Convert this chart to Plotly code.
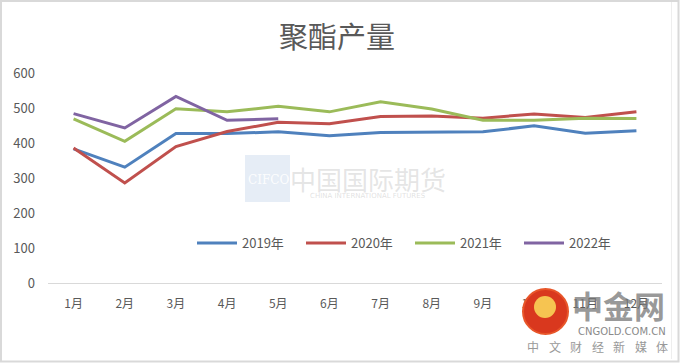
import plotly.graph_objects as go

months = ["1月", "2月", "3月", "4月", "5月", "6月", "7月", "8月", "9月", "10月", "11月", "12月"]
y2019 = [383, 331, 427, 427, 432, 421, 430, 430, 432, 449, 428, 435]
y2020 = [386, 286, 390, 433, 459, 455, 476, 477, 471, 483, 473, 489]
y2021 = [469, 405, 498, 489, 505, 489, 518, 497, 465, 465, 471, 470]
y2022 = [484, 443, 533, 465, 469]
series_names = ["2019年", "2020年", "2021年", "2022年"]
colors = ["#4F81BD", "#C0504D", "#9BBB59", "#8064A2"]

W, H = 680, 363
# desired screen positions of plot area
SL, SR, ST, SB = 48, 662, 73, 283
L = SL
T = ST
R = W - SR
B = H - SB
PW = W - L - R
PH = H - T - B

def px(x):
    return (x - L) / PW

def py(y):
    return (H - B - y) / PH

fig = go.Figure()
for name, vals, c in zip(series_names, [y2019, y2020, y2021, y2022], colors):
    fig.add_trace(go.Scatter(
        x=months[:len(vals)], y=vals, name=name, mode="lines",
        line=dict(color=c, width=3),
    ))

font_cjk = "Noto Sans CJK SC, Microsoft YaHei, sans-serif"

fig.update_layout(
    width=W, height=H,
    margin=dict(l=L, r=R, t=T, b=B, autoexpand=False),
    paper_bgcolor="white", plot_bgcolor="white",
    font=dict(family=font_cjk, size=12, color="#595959"),
    title=dict(text="聚酯产量", x=px(337), xref="paper", xanchor="center",
               y=1 - 38 / H, yanchor="middle",
               font=dict(size=29, color="#595959", family=font_cjk)),
    legend=dict(orientation="h", x=px(192), y=py(243), xanchor="left", yanchor="middle",
                font=dict(size=13, color="#595959"), bgcolor="rgba(0,0,0,0)",
                entrywidth=54, entrywidthmode="pixels", itemwidth=40, tracegroupgap=0),
    showlegend=True,
)
fig.update_xaxes(
    type="category", categoryorder="array", categoryarray=months,
    range=[-0.5, 11.5], showgrid=False, showline=True, linecolor="#D9D9D9",
    linewidth=1, ticks="", ticklabelstandoff=10, zeroline=False,
    tickfont=dict(size=12, color="#595959"),
)
fig.update_yaxes(
    range=[0, 600], dtick=100, showgrid=False, zeroline=False, showline=False,
    ticks="", ticklabelstandoff=12, tickfont=dict(size=13, color="#595959"),
)

def note(text, x, y, size, color, family=font_cjk):
    fig.add_annotation(text=text, xref="paper", yref="paper", x=px(x), y=py(y),
                       xanchor="center", yanchor="middle", showarrow=False,
                       font=dict(size=size, color=color, family=family))

# watermark: CIFCO
fig.add_shape(type="rect", xref="paper", yref="paper",
              x0=px(245), x1=px(290), y0=py(202), y1=py(155),
              fillcolor="rgba(200,215,235,0.45)", line=dict(width=0), layer="below")
note("CIFCO", 268, 180, 12, "rgba(255,255,255,0.9)", "DejaVu Serif")
note("中国国际期货", 368, 178, 26, "rgba(180,180,180,0.35)")
note("CHINA INTERNATIONAL FUTURES", 368, 196, 7, "rgba(180,180,180,0.4)", "DejaVu Sans")

# watermark: 中金网
fig.add_shape(type="circle", xref="paper", yref="paper",
              x0=px(523), x1=px(568), y0=py(334), y1=py(289),
              fillcolor="#D9381E", line=dict(color="#E8562A", width=2))
fig.add_shape(type="circle", xref="paper", yref="paper",
              x0=px(534), x1=px(556), y0=py(318), y1=py(296),
              fillcolor="#F6C451", line=dict(width=0))
note("<b>中金网</b>", 618, 304, 31, "rgba(120,120,120,0.75)")
note("CNGOLD.COM.CN", 622, 331, 10, "#8a8a8a", "DejaVu Sans")
for i, ch in enumerate("中文财经新媒体"):
    note(ch, 533 + i * 21.5, 346, 12, "#999999")

# outer frame
fig.add_shape(type="rect", xref="paper", yref="paper",
              x0=px(1), x1=px(678.5), y0=py(361.5), y1=py(1),
              line=dict(color="#D9D9D9", width=2), fillcolor="rgba(0,0,0,0)")
fig.add_shape(type="line", xref="paper", yref="paper",
              x0=px(671.5), x1=px(671.5), y0=py(359), y1=py(2),
              line=dict(color="#EEEEEE", width=1))

fig.write_html("out.html", config={"displayModeBar": False},
               post_script="document.body.style.margin='0';")
